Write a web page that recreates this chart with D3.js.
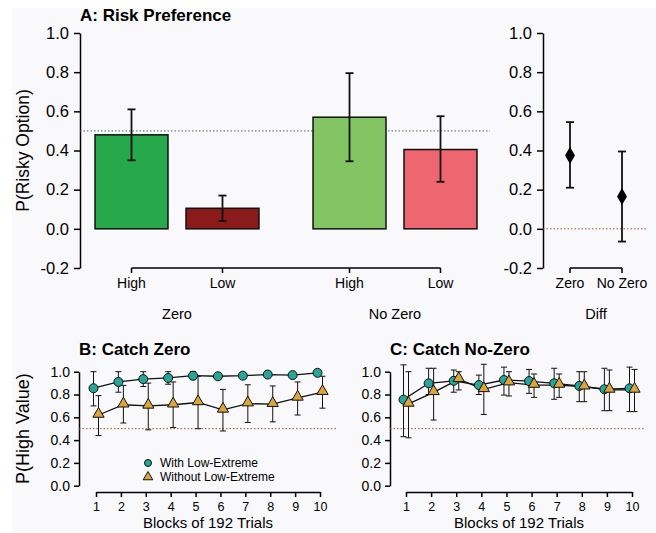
<!DOCTYPE html>
<html>
<head>
<meta charset="utf-8">
<script src="https://cdn.jsdelivr.net/npm/d3@7"></script>
<style>
  body { margin: 0; background: #fff; }
  svg { font-family: "Liberation Sans", Arial, sans-serif; }
  .axis path, .axis line { stroke: #000; stroke-width: 1.5; }
  .axis text { fill: #000; }
</style>
</head>
<body>
<div id="chart"></div>
<script>
// panel A data
var groups = ["Zero", "No Zero"];
var levels = ["High", "Low"];
var barVals = [0.48, 0.105, 0.57, 0.405];
var barLo = [0.35, 0.04, 0.345, 0.24];
var barHi = [0.61, 0.17, 0.795, 0.575];
var barColors = ["#27a84a", "#8b1a1a", "#82c562", "#ee6670"];

// diff data
var diffCats = ["Zero", "No Zero"];
var diffVals = [0.375, 0.165];
var diffLo = [0.21, -0.065];
var diffHi = [0.545, 0.395];

var yTicksA = [-0.2, 0, 0.2, 0.4, 0.6, 0.8, 1.0];
var yTicksB = [0, 0.2, 0.4, 0.6, 0.8, 1.0];
var blocks = [1, 2, 3, 4, 5, 6, 7, 8, 9, 10];

// panel B: catch zero
var bWith = [0.855, 0.91, 0.935, 0.945, 0.965, 0.96, 0.965, 0.975, 0.97, 0.99];
var bWithLo = [0.70, 0.82, 0.87, 0.89, 0.93, 0.95, 0.94, 0.96, 0.96, 0.97];
var bWithHi = [1.0, 1.0, 1.0, 1.0, 1.0, 0.97, 0.99, 0.99, 0.98, 1.0];
var bWithout = [0.62, 0.71, 0.70, 0.71, 0.73, 0.665, 0.72, 0.715, 0.77, 0.82];
var bWithoutLo = [0.44, 0.55, 0.49, 0.51, 0.50, 0.48, 0.555, 0.56, 0.62, 0.68];
var bWithoutHi = [0.79, 0.88, 0.90, 0.91, 0.96, 0.845, 0.885, 0.875, 0.91, 0.96];

// panel C: catch no-zero
var cWith = [0.755, 0.898, 0.92, 0.883, 0.927, 0.918, 0.898, 0.875, 0.846, 0.854];
var cWithLo = [0.43, 0.80, 0.82, 0.80, 0.795, 0.81, 0.758, 0.737, 0.658, 0.65];
var cWithHi = [1.06, 1.03, 1.015, 0.97, 1.04, 1.02, 1.03, 1.0, 1.03, 1.04];
var cWithout = [0.717, 0.819, 0.933, 0.845, 0.904, 0.883, 0.883, 0.868, 0.84, 0.84];
var cWithoutLo = [0.42, 0.576, 0.84, 0.625, 0.787, 0.775, 0.775, 0.737, 0.658, 0.65];
var cWithoutHi = [1.0, 1.03, 1.0, 1.065, 1.0, 0.98, 0.98, 1.0, 1.015, 1.02];

var teal = "#26a69a";
var gold = "#dba53c";
var refRed = "#a0522d";

var width = 656, height = 533;
var svg = d3.select("#chart").append("svg")
  .attr("width", width).attr("height", height);

svg.append("rect").attr("x", 12).attr("y", 8)
  .attr("width", width - 12).attr("height", height - 8)
  .attr("fill", "#f9f9fb");

// plain hyphen for negatives, like the original
var fmt = function(v) { return d3.format(".1f")(v).replace("\u2212", "-"); };

// ---------- Panel A ----------
var yA = d3.scaleLinear().domain([-0.2, 1.0]).range([268, 33]);
var outer = d3.scaleBand().domain(groups).range([68, 504]).padding(0);
var inner = d3.scaleBand().domain(levels).range([0, outer.bandwidth()])
  .paddingInner(0.198).paddingOuter(0.297);

svg.append("text").attr("x", 80).attr("y", 21)
  .attr("font-size", 17).attr("font-weight", "bold").text("A: Risk Preference");

svg.append("g").attr("class", "axis")
  .attr("transform", "translate(80,0)")
  .call(d3.axisLeft(yA).tickValues(yTicksA).tickFormat(fmt).tickSize(6).tickSizeOuter(0))
  .call(g => g.selectAll("text").attr("font-size", 16.5).attr("dx", "-2"));

svg.append("text")
  .attr("transform", "translate(29," + yA(0.4) + ")rotate(-90)")
  .attr("text-anchor", "middle").attr("font-size", 17.5)
  .text("P(Risky Option)");

var barData = [];
groups.forEach(function(g, gi) {
  levels.forEach(function(l, li) {
    var i = gi * 2 + li;
    barData.push({ group: g, level: l, v: barVals[i], lo: barLo[i], hi: barHi[i], c: barColors[i] });
  });
});

function cx(d) { return outer(d.group) + inner(d.level) + inner.bandwidth() / 2; }

// reference line 0.5
svg.append("line").attr("x1", 80).attr("x2", 490)
  .attr("y1", yA(0.5)).attr("y2", yA(0.5))
  .attr("stroke", "#4a6262").attr("stroke-width", 1).attr("stroke-dasharray", "1.5,2");

svg.selectAll(".bar").data(barData).enter().append("rect")
  .attr("class", "bar")
  .attr("x", function(d) { return outer(d.group) + inner(d.level); })
  .attr("y", function(d) { return yA(d.v); })
  .attr("width", inner.bandwidth())
  .attr("height", function(d) { return yA(0) - yA(d.v); })
  .attr("fill", function(d) { return d.c; })
  .attr("stroke", "#111").attr("stroke-width", 1.5);

function errBars(sel, data, xf, yf, cap, sw) {
  var g = sel.append("g");
  g.selectAll(".ev").data(data).enter().append("line")
    .attr("x1", xf).attr("x2", xf)
    .attr("y1", function(d) { return yf(d.lo); })
    .attr("y2", function(d) { return yf(d.hi); })
    .attr("stroke", "#111").attr("stroke-width", sw);
  ["lo", "hi"].forEach(function(k) {
    g.selectAll(".c" + k).data(data).enter().append("line")
      .attr("x1", function(d, i) { return xf(d, i) - cap; })
      .attr("x2", function(d, i) { return xf(d, i) + cap; })
      .attr("y1", function(d) { return yf(d[k]); })
      .attr("y2", function(d) { return yf(d[k]); })
      .attr("stroke", "#111").attr("stroke-width", sw);
  });
}
errBars(svg, barData, cx, yA, 4, 1.8);

// bracket under bars
var bracket = svg.append("g");
bracket.append("line")
  .attr("x1", cx(barData[0])).attr("x2", cx(barData[3]))
  .attr("y1", 268).attr("y2", 268).attr("stroke", "#000").attr("stroke-width", 1.5);
bracket.selectAll(".bt").data(barData).enter().append("line")
  .attr("x1", cx).attr("x2", cx).attr("y1", 268).attr("y2", 273)
  .attr("stroke", "#000").attr("stroke-width", 1.5);
bracket.selectAll(".bl").data(barData).enter().append("text")
  .attr("x", cx).attr("y", 288).attr("text-anchor", "middle")
  .attr("font-size", 14).text(function(d) { return d.level; });
svg.selectAll(".gl").data(groups).enter().append("text")
  .attr("x", function(g) { return outer(g) + outer.bandwidth() / 2; })
  .attr("y", 319).attr("text-anchor", "middle").attr("font-size", 14.5)
  .text(function(g) { return g; });

// ---------- Diff panel ----------
var xD = d3.scalePoint().domain(diffCats).range([570, 622]);
svg.append("g").attr("class", "axis")
  .attr("transform", "translate(543,0)")
  .call(d3.axisLeft(yA).tickValues(yTicksA).tickFormat(fmt).tickSize(6).tickSizeOuter(0))
  .call(g => g.selectAll("text").attr("font-size", 16.5).attr("dx", "-2"));

svg.append("line").attr("x1", 543).attr("x2", 646)
  .attr("y1", yA(0)).attr("y2", yA(0))
  .attr("stroke", refRed).attr("stroke-width", 1).attr("stroke-dasharray", "1.5,2");

var diffData = diffCats.map(function(c, i) {
  return { cat: c, v: diffVals[i], lo: diffLo[i], hi: diffHi[i] };
});
errBars(svg, diffData, function(d) { return xD(d.cat); }, yA, 4, 1.8);
svg.selectAll(".dm").data(diffData).enter().append("path")
  .attr("d", d3.symbol(d3.symbolDiamond, 85))
  .attr("transform", function(d) {
    return "translate(" + xD(d.cat) + "," + yA(d.v) + ")";
  })
  .attr("fill", "#000");

var db = svg.append("g");
db.append("line").attr("x1", xD("Zero")).attr("x2", xD("No Zero"))
  .attr("y1", 268).attr("y2", 268).attr("stroke", "#000").attr("stroke-width", 1.5);
db.selectAll(".dt").data(diffCats).enter().append("line")
  .attr("x1", function(c) { return xD(c); }).attr("x2", function(c) { return xD(c); })
  .attr("y1", 268).attr("y2", 273).attr("stroke", "#000").attr("stroke-width", 1.5);
db.selectAll(".dl").data(diffCats).enter().append("text")
  .attr("x", function(c) { return xD(c); }).attr("y", 288)
  .attr("text-anchor", "middle").attr("font-size", 14).text(function(c) { return c; });
svg.append("text").attr("x", (xD("Zero") + xD("No Zero")) / 2).attr("y", 319)
  .attr("text-anchor", "middle").attr("font-size", 14.5).text("Diff");

// ---------- Panels B & C ----------
var yB = d3.scaleLinear().domain([0, 1]).range([485.7, 371.7]);

function linePanel(opt) {
  var x = d3.scaleLinear().domain([1, 10]).range([opt.x0, opt.x1]);
  var g = svg.append("g");

  g.append("text").attr("x", opt.ax).attr("y", 355)
    .attr("font-size", 17).attr("font-weight", "bold").text(opt.title);

  g.append("g").attr("class", "axis")
    .attr("transform", "translate(" + opt.ax + ",0)")
    .call(d3.axisLeft(yB).tickValues(yTicksB).tickFormat(fmt).tickSize(5).tickSizeOuter(0))
    .call(s => s.selectAll("text").attr("font-size", 14).attr("dx", "-1"));

  g.append("g").attr("class", "axis")
    .attr("transform", "translate(0,492)")
    .call(d3.axisBottom(x).tickValues(blocks).tickSize(5).tickSizeOuter(0))
    .call(s => s.selectAll("text").attr("font-size", 12.5).attr("dy", "0.9em"));

  g.append("text").attr("x", (opt.x0 + opt.x1) / 2).attr("y", 528)
    .attr("text-anchor", "middle").attr("font-size", 15).text("Blocks of 192 Trials");

  g.append("line").attr("x1", opt.ax).attr("x2", opt.refEnd)
    .attr("y1", yB(0.5)).attr("y2", yB(0.5))
    .attr("stroke", refRed).attr("stroke-width", 1).attr("stroke-dasharray", "1.5,2");

  var series = [
    { v: opt.w, lo: opt.wLo, hi: opt.wHi, off: -2.5, shape: "circle" },
    { v: opt.wo, lo: opt.woLo, hi: opt.woHi, off: 2.5, shape: "tri" }
  ];
  var line = d3.line().x(function(d) { return x(d.b) + d.off; }).y(function(d) { return yB(d.v); });

  series.forEach(function(s) {
    var pts = blocks.map(function(b, i) {
      return { b: b, v: s.v[i], lo: s.lo[i], hi: s.hi[i], off: s.off };
    });
    errBars(g, pts, function(d) { return x(d.b) + d.off; }, yB, 3, 1);
    s.pts = pts;
  });
  series.forEach(function(s) {
    g.append("path").datum(s.pts).attr("d", line)
      .attr("fill", "none").attr("stroke", "#111").attr("stroke-width", 1.3);
  });
  series.forEach(function(s) {
    var m = g.selectAll(".m" + s.shape).data(s.pts).enter();
    if (s.shape === "circle") {
      m.append("circle")
        .attr("cx", function(d) { return x(d.b) + d.off; })
        .attr("cy", function(d) { return yB(d.v); })
        .attr("r", 4.5).attr("fill", teal).attr("stroke", "#111").attr("stroke-width", 1);
    } else {
      m.append("path").attr("d", d3.symbol(d3.symbolTriangle, 55))
        .attr("transform", function(d) {
          return "translate(" + (x(d.b) + d.off) + "," + (yB(d.v) - 1) + ")";
        })
        .attr("fill", gold).attr("stroke", "#111").attr("stroke-width", 1);
    }
  });
  return g;
}

linePanel({
  title: "B: Catch Zero", ax: 79, x0: 96, x1: 320, refEnd: 338,
  w: bWith, wLo: bWithLo, wHi: bWithHi, wo: bWithout, woLo: bWithoutLo, woHi: bWithoutHi
});
linePanel({
  title: "C: Catch No-Zero", ax: 390, x0: 406, x1: 632, refEnd: 645,
  w: cWith, wLo: cWithLo, wHi: cWithHi, wo: cWithout, woLo: cWithoutLo, woHi: cWithoutHi
});

svg.append("text")
  .attr("transform", "translate(29," + yB(0.5) + ")rotate(-90)")
  .attr("text-anchor", "middle").attr("font-size", 18)
  .text("P(High Value)");

// legend
var leg = svg.append("g");
leg.append("circle").attr("cx", 148).attr("cy", 463).attr("r", 3.5)
  .attr("fill", teal).attr("stroke", "#111");
leg.append("path").attr("d", d3.symbol(d3.symbolTriangle, 40))
  .attr("transform", "translate(148,477)").attr("fill", gold).attr("stroke", "#111");
leg.append("text").attr("x", 160).attr("y", 467).attr("font-size", 12).text("With Low-Extreme");
leg.append("text").attr("x", 160).attr("y", 481).attr("font-size", 12).text("Without Low-Extreme");
</script>
</body>
</html>
